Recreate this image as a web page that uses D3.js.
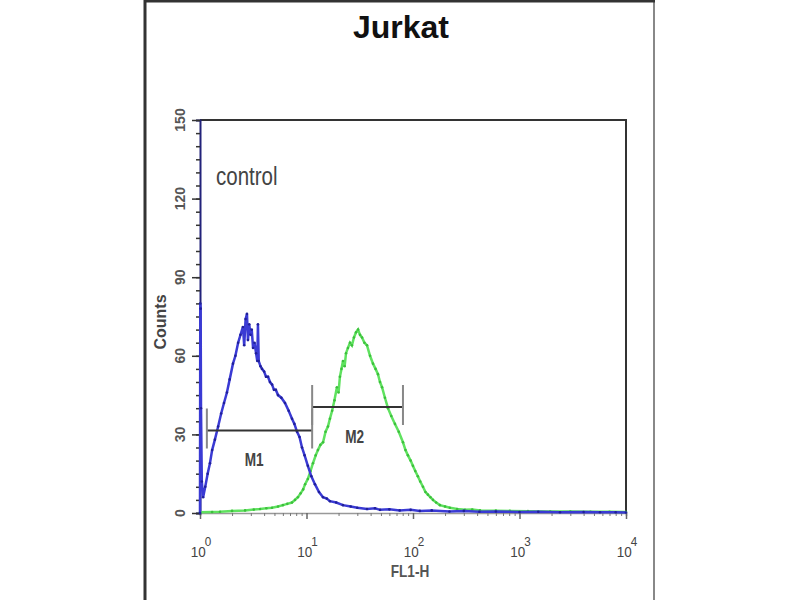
<!DOCTYPE html>
<html>
<head>
<meta charset="utf-8">
<script src="https://cdn.jsdelivr.net/npm/d3@7"></script>
<style>
  body { margin: 0; background: #fff; }
  svg { display: block; }
</style>
</head>
<body>
<svg width="800" height="600"></svg>
<script>
// histogram values (FL1-H channel, counts)
var controlFL = [1.00, 1.006, 1.014, 1.022, 1.04, 1.07, 1.12, 1.18, 1.24, 1.30, 1.38, 1.48, 1.58, 1.68, 1.79, 1.90,
  2.04, 2.15, 2.28, 2.40, 2.53, 2.60, 2.68, 2.76, 2.82, 2.90, 2.98, 3.06, 3.15, 3.25, 3.36, 3.45, 3.50, 3.56,
  3.70, 3.82, 4.00, 4.17, 4.35, 4.54, 4.75, 4.95, 5.15, 5.40, 5.80, 6.28, 6.80, 7.31, 7.70, 8.15, 8.60, 9.07,
  9.60, 10.3, 11.1, 12.0, 13.1, 14.3, 15.5, 16.6, 19.0, 22.0, 26, 30, 37, 44, 49, 60, 75, 95, 116, 150, 220,
  300, 420, 600, 1000, 1500, 2400, 4000, 5700, 8000, 10000]
var controlCounts = [0, 80, 78, 40, 12, 6, 10, 15, 19, 24, 28, 33, 38, 42, 46, 51,
  57, 60, 65, 68, 71, 64, 74, 76, 66, 72, 68, 70, 63, 65, 61, 58, 72, 58,
  56, 55, 54, 52, 52, 50, 49, 47, 47, 45, 44, 42, 39, 36, 34, 31, 29, 25,
  22, 18, 14, 11, 8, 6, 5.5, 4.5, 4, 3, 2.5, 2, 1.5, 1.8, 1.2, 1.4, 1, 1.2, 0.8, 1, 0.6,
  0.8, 0.5, 0.6, 0.4, 0.5, 0.3, 0.4, 0.3, 0.3, 0.2]

var sampleFL = [1.00, 1.3, 1.54, 2.0, 2.65, 3.2, 3.66, 4.2, 4.74, 5.4, 6.0, 6.6, 7.3, 7.8, 8.3, 8.8, 9.3, 9.7,
  10.3, 10.9, 11.5, 12.2, 12.8, 13.5, 14.3, 15.1, 15.9, 16.6, 17.4, 18.3, 19.3, 20.0, 20.6, 21.3, 22.0, 22.8,
  23.5, 24.5, 25.6, 26.7, 27.9, 29.2, 30.5, 31.8, 33.2, 35.0, 37.0, 39.5, 42.1, 44.5, 46.9, 49.0, 51.2, 54.5,
  58.2, 62.5, 67.7, 73.5, 80.5, 85, 89.6, 95, 99.8, 105, 111, 117, 124, 131, 138, 146, 154, 165, 179, 200,
  222, 260, 308, 360, 426, 600, 812, 1200, 1940, 3000, 4630, 7000, 10000]
var sampleCounts = [0.3, 0.4, 0.5, 0.8, 1, 1.3, 1.5, 1.8, 2, 2.5, 3, 3.5, 4, 5, 6, 7.5, 9, 11,
  13, 16, 19, 22, 24, 26, 27, 31, 33, 36, 39, 43, 48, 46, 52, 55, 58, 56,
  61, 63, 65, 64, 67, 69, 70, 68, 67, 65, 64, 60, 57, 55, 53, 50, 48, 44,
  40, 37, 34, 31, 27, 24, 22, 20, 18, 16, 14, 12, 10, 8, 7, 6, 5, 4, 3, 2.5,
  2, 1.5, 1.2, 1.3, 1, 0.9, 0.8, 0.7, 0.6, 0.6, 0.5, 0.5, 0.4]

var yTicks = [0, 30, 60, 90, 120, 150]
var xTicks = [1, 10, 100, 1000, 10000]
var xTickExp = ['0', '1', '2', '3', '4']

// gate markers
var markerNames = ['M1', 'M2']
var markerStart = [1.16, 11.3]
var markerEnd = [11.3, 80.5]
var markerLevel = [31.5, 40.5]

var svg = d3.select('svg')
var sans = 'Liberation Sans, Arial, sans-serif'

// page frame
svg.append('line').attr('x1', 145).attr('x2', 145).attr('y1', 0).attr('y2', 600)
  .attr('stroke', '#333').attr('stroke-width', 3)
svg.append('line').attr('x1', 654).attr('x2', 654).attr('y1', 0).attr('y2', 600)
  .attr('stroke', '#888').attr('stroke-width', 2)
svg.append('line').attr('x1', 145).attr('x2', 655).attr('y1', 1).attr('y2', 1)
  .attr('stroke', '#333').attr('stroke-width', 3)

var x = d3.scaleLog().domain([1, 10000]).range([200, 626])
var y = d3.scaleLinear().domain([0, 150]).range([513, 120])

// title
svg.append('text').attr('x', 401).attr('y', 38).attr('text-anchor', 'middle')
  .attr('font-family', sans).attr('font-weight', 'bold')
  .attr('font-size', 32).attr('fill', '#111').text('Jurkat')

// plot box: top and right
svg.append('path')
  .attr('d', 'M200,' + y(150) + 'H626V' + y(0))
  .attr('fill', 'none').attr('stroke', '#333').attr('stroke-width', 2)

// x axis
var minorX = []
for (var d = 1; d < 10000; d *= 10) for (var k = 2; k < 10; k++) minorX.push(d * k)

svg.append('g').attr('transform', 'translate(0,' + y(0) + ')')
  .call(d3.axisBottom(x).tickValues(minorX).tickSize(3).tickFormat(''))
  .call(g => g.select('.domain').attr('stroke', '#999').attr('stroke-width', 1.5))
  .call(g => g.selectAll('.tick line').attr('stroke', '#777'))
svg.append('g').attr('transform', 'translate(0,' + y(0) + ')')
  .call(d3.axisBottom(x).tickValues(xTicks).tickSize(6).tickFormat(''))
  .call(g => g.select('.domain').remove())
  .call(g => g.selectAll('.tick line').attr('stroke', '#666').attr('stroke-width', 1.5))

// narrow looking labels: squeeze horizontally
var xLab = svg.append('g').selectAll('text').data(xTicks).enter().append('text')
  .attr('transform', d => 'translate(' + (x(d) + 1) + ',557) scale(0.9,1)')
  .attr('text-anchor', 'middle')
  .attr('font-family', sans)
  .attr('font-size', 15).attr('fill', '#444')
xLab.append('tspan').text('10')
xLab.append('tspan').attr('dx', -1).attr('dy', -11).attr('font-size', 13).text((d, i) => xTickExp[i])

svg.append('text').attr('transform', 'translate(410,577) scale(0.85,1)')
  .attr('text-anchor', 'middle')
  .attr('font-family', sans).attr('font-weight', 'bold')
  .attr('font-size', 16).attr('fill', '#555').text('FL1-H')

// y axis
svg.append('g').attr('transform', 'translate(200,0)')
  .call(d3.axisLeft(y).tickValues(d3.range(0, 151, 5)).tickSize(4).tickFormat(''))
  .call(g => g.select('.domain').attr('stroke', '#22227a').attr('stroke-width', 2))
  .call(g => g.selectAll('.tick line').attr('stroke', '#333').attr('stroke-width', 1.5))
svg.append('g').attr('transform', 'translate(200,0)')
  .call(d3.axisLeft(y).tickValues(yTicks).tickSize(8).tickFormat(''))
  .call(g => g.select('.domain').remove())
  .call(g => g.selectAll('.tick line').attr('stroke', '#333').attr('stroke-width', 1.5))

svg.append('g').selectAll('text').data(yTicks).enter().append('text')
  .attr('transform', d => 'translate(185,' + y(d) + ') rotate(-90)')
  .attr('text-anchor', 'middle')
  .attr('font-family', sans).attr('font-weight', 'bold')
  .attr('font-size', 14).attr('fill', '#555').text(d => d)

svg.append('text').attr('transform', 'translate(166,322) rotate(-90)')
  .attr('text-anchor', 'middle')
  .attr('font-family', sans).attr('font-weight', 'bold')
  .attr('font-size', 16).attr('fill', '#444').text('Counts')

svg.append('text').attr('transform', 'translate(216,185) scale(0.82,1)')
  .attr('font-family', sans)
  .attr('font-size', 25).attr('fill', '#444').text('control')

// histograms
var line = d3.line().x(d => x(d[0])).y(d => y(d[1]))
var sample = d3.zip(sampleFL, sampleCounts)
var control = d3.zip(controlFL, controlCounts)

svg.append('path').datum(sample).attr('d', line)
  .attr('fill', 'none').attr('stroke', '#5fe25f').attr('stroke-width', 2.5)
svg.append('g').selectAll('circle').data(sample).enter().append('circle')
  .attr('cx', d => x(d[0])).attr('cy', d => y(d[1])).attr('r', 1.3).attr('fill', '#3cbf3c')

svg.append('path').datum(control).attr('d', line)
  .attr('fill', 'none').attr('stroke', '#3a3ad4').attr('stroke-width', 2.5)
svg.append('g').selectAll('circle').data(control).enter().append('circle')
  .attr('cx', d => x(d[0])).attr('cy', d => y(d[1])).attr('r', 1.3).attr('fill', '#20209a')

// markers
var mk = svg.append('g').selectAll('g').data(markerNames).enter().append('g')
mk.append('line')
  .attr('x1', (d, i) => x(markerStart[i])).attr('x2', (d, i) => x(markerEnd[i]))
  .attr('y1', (d, i) => y(markerLevel[i])).attr('y2', (d, i) => y(markerLevel[i]))
  .attr('stroke', '#333').attr('stroke-width', 2)
mk.append('path')
  .attr('d', (d, i) => {
    var yy = y(markerLevel[i])
    return 'M' + x(markerStart[i]) + ',' + (yy - 22) + 'V' + (yy + 18) +
      'M' + x(markerEnd[i]) + ',' + (yy - 22) + 'V' + (yy + 18)
  })
  .attr('stroke', '#888').attr('stroke-width', 2).attr('fill', 'none')
mk.append('text')
  .attr('transform', (d, i) => 'translate(' + Math.sqrt(x(markerStart[i]) * x(markerEnd[i])) + ',' +
    (y(markerLevel[i]) + 36) + ') scale(0.8,1.1)')
  .attr('text-anchor', 'middle')
  .attr('font-family', sans).attr('font-weight', 'bold')
  .attr('font-size', 17).attr('fill', '#444').text(d => d)
</script>
</body>
</html>
